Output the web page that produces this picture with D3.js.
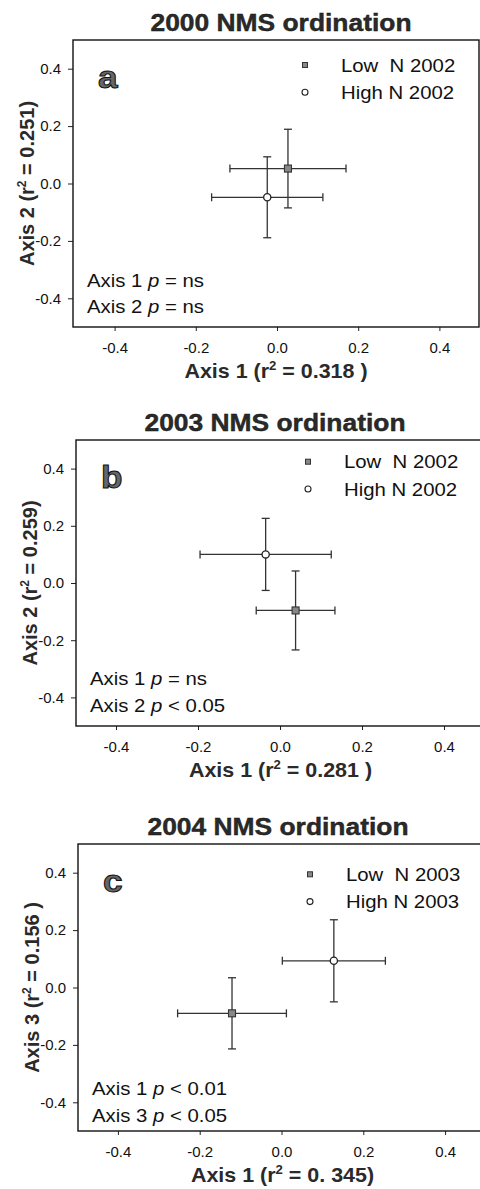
<!DOCTYPE html>
<html>
<head>
<meta charset="utf-8">
<script src="https://cdn.jsdelivr.net/npm/d3@7"></script>
<style>
  body { margin: 0; background: #fff; }
  svg { display: block; }
  text { font-family: "Liberation Sans", Arial, sans-serif; }
</style>
</head>
<body>
<div id="chart"></div>
<script>
// values
var panelLetters = ["a", "b", "c"];
var titles = ["2000 NMS ordination", "2003 NMS ordination", "2004 NMS ordination"];
var yAxisNames = ["Axis 2", "Axis 2", "Axis 3"];
var yR2 = ["0.251)", "0.259)", "0.156 )"];
var xR2 = ["0.318 )", "0.281 )", "0. 345)"];
var lowLabels = ["Low  N 2002", "Low  N 2002", "Low  N 2003"];
var highLabels = ["High N 2002", "High N 2002", "High N 2003"];

var lowX = [0.027, 0.038, -0.121];
var lowY = [0.052, -0.096, -0.090];
var lowXErr = [0.143, 0.096, 0.133];
var lowYErr = [0.137, 0.138, 0.124];

var highX = [-0.024, -0.035, 0.128];
var highY = [-0.048, 0.100, 0.093];
var highXErr = [0.137, 0.160, 0.126];
var highYErr = [0.141, 0.126, 0.143];

var pAxis1 = ["Axis 1", "Axis 1", "Axis 1"];
var pAxis1Val = ["= ns", "= ns", "< 0.01"];
var pAxis2 = ["Axis 2", "Axis 2", "Axis 3"];
var pAxis2Val = ["= ns", "< 0.05", "< 0.05"];

var tickVals = [-0.4, -0.2, 0.0, 0.2, 0.4];

// where each panel sits on the page
var layout = [
  {left: 73, right: 479, xr: [74, 480], top: 40, bottom: 327, titleX: 281, legY: 65, pY: 286.7},
  {left: 76, right: 485, xr: [75, 485], top: 440, bottom: 726, titleX: 275, legY: 461.7, pY: 685},
  {left: 78, right: 487, xr: [77, 486], top: 844, bottom: 1131, titleX: 278, legY: 874.3, pY: 1095}
];

var SX = 1.1; // the scan is a bit wider than tall
var fmt = d3.formatLocale({decimal: ".", thousands: ",", grouping: [3], currency: ["", ""], minus: "-"}).format(".1f");

var svg = d3.select("#chart").append("svg").attr("width", 480).attr("height", 1189);

function label(g, x, y, anchor) {
  return g.append("text")
    .attr("transform", "translate(" + x + "," + y + ") scale(" + SX + ",1)")
    .attr("text-anchor", anchor || "start");
}

panelLetters.forEach(function (letter, i) {
  var L = layout[i];
  var g = svg.append("g");

  var x = d3.scaleLinear().domain([-0.5, 0.5]).range(L.xr);
  var y = d3.scaleLinear().domain([-0.5, 0.5]).range([L.bottom, L.top]);

  // title
  label(g, L.titleX, L.top - 9, "middle")
    .attr("font-size", 24).attr("font-weight", "bold")
    .attr("fill", "#2a2a2a").attr("stroke", "#111").attr("stroke-width", 0.4)
    .text(titles[i]);

  // axes
  var xa = g.append("g").attr("transform", "translate(0," + L.bottom + ")")
    .call(d3.axisBottom(x).tickValues(tickVals).tickFormat(fmt).tickSize(4).tickPadding(11).tickSizeOuter(0));
  var ya = g.append("g").attr("transform", "translate(" + L.left + ",0)")
    .call(d3.axisLeft(y).tickValues(tickVals).tickFormat(fmt).tickSize(5).tickPadding(7).tickSizeOuter(0));
  [xa, ya].forEach(function (a) {
    a.select(".domain").remove();
    a.selectAll("line").attr("stroke", "#222");
    a.selectAll("text").attr("font-size", 15).attr("fill", "#111")
      .attr("font-family", "'Liberation Sans', Arial, sans-serif");
  });

  // box
  g.append("rect")
    .attr("x", L.left).attr("y", L.top)
    .attr("width", L.right - L.left).attr("height", L.bottom - L.top)
    .attr("fill", "none").attr("stroke", "#111").attr("stroke-width", 1.4);

  // axis titles
  var xl = label(g, (L.left + L.right) / 2, L.bottom + 51, "middle")
    .attr("font-size", 19.5).attr("font-weight", "bold").attr("fill", "#2a2a2a");
  xl.append("tspan").text("Axis 1 (r");
  xl.append("tspan").attr("font-size", 12).attr("dy", -8).text("2");
  xl.append("tspan").attr("dy", 8).text(" = " + xR2[i]);

  var yl = g.append("text")
    .attr("transform", "translate(" + (L.left - 39) + "," + ((L.top + L.bottom) / 2) + ") rotate(-90)")
    .attr("text-anchor", "middle")
    .attr("font-size", 20).attr("font-weight", "bold").attr("fill", "#2a2a2a");
  yl.append("tspan").text(yAxisNames[i] + " (r");
  yl.append("tspan").attr("font-size", 12).attr("dy", -8).text("2");
  yl.append("tspan").attr("dy", 8).text(" = " + yR2[i]);

  // panel letter
  label(g, L.left + 25, L.top + 48)
    .attr("font-size", 32).attr("font-weight", "bold")
    .attr("fill", "#666").attr("stroke", "#111").attr("stroke-width", 1)
    .text(letter);

  // legend
  var lx = L.left + 232;
  g.append("rect").attr("x", lx - 2.5).attr("y", L.legY - 2.5).attr("width", 5).attr("height", 5)
    .attr("fill", "#888").attr("stroke", "#333").attr("stroke-width", 1);
  g.append("circle").attr("cx", lx).attr("cy", L.legY + 27.3).attr("r", 3)
    .attr("fill", "#fff").attr("stroke", "#222").attr("stroke-width", 1.1);
  label(g, L.left + 268, L.legY + 6.7).attr("font-size", 18.5).attr("fill", "#111")
    .style("white-space", "pre").text(lowLabels[i]);
  label(g, L.left + 268, L.legY + 34).attr("font-size", 18.5).attr("fill", "#111")
    .text(highLabels[i]);

  // p-value notes
  [[pAxis1[i], pAxis1Val[i]], [pAxis2[i], pAxis2Val[i]]].forEach(function (row, k) {
    var t = label(g, L.left + 14, L.pY + k * 26.7).attr("font-size", 18.5).attr("fill", "#111");
    t.append("tspan").text(row[0] + " ");
    t.append("tspan").attr("font-style", "italic").text("p");
    t.append("tspan").text(" " + row[1]);
  });

  // points with error bars
  var pts = [
    {kind: "low", x: lowX[i], y: lowY[i], ex: lowXErr[i], ey: lowYErr[i]},
    {kind: "high", x: highX[i], y: highY[i], ex: highXErr[i], ey: highYErr[i]}
  ];
  var cap = 4;
  var bars = g.append("g").attr("stroke", "#333").attr("stroke-width", 1.3).attr("fill", "none");
  pts.forEach(function (d) {
    bars.append("line").attr("x1", x(d.x - d.ex)).attr("x2", x(d.x + d.ex)).attr("y1", y(d.y)).attr("y2", y(d.y));
    bars.append("line").attr("x1", x(d.x)).attr("x2", x(d.x)).attr("y1", y(d.y - d.ey)).attr("y2", y(d.y + d.ey));
    [d.x - d.ex, d.x + d.ex].forEach(function (v) {
      bars.append("line").attr("x1", x(v)).attr("x2", x(v)).attr("y1", y(d.y) - cap).attr("y2", y(d.y) + cap);
    });
    [d.y - d.ey, d.y + d.ey].forEach(function (v) {
      bars.append("line").attr("x1", x(d.x) - cap).attr("x2", x(d.x) + cap).attr("y1", y(v)).attr("y2", y(v));
    });
  });
  pts.forEach(function (d) {
    if (d.kind == "low") {
      g.append("rect").attr("x", x(d.x) - 3.5).attr("y", y(d.y) - 3.5).attr("width", 7).attr("height", 7)
        .attr("fill", "#888").attr("stroke", "#333").attr("stroke-width", 1.1);
    } else {
      g.append("circle").attr("cx", x(d.x)).attr("cy", y(d.y)).attr("r", 3.6)
        .attr("fill", "#fff").attr("stroke", "#222").attr("stroke-width", 1.3);
    }
  });
});
</script>
</body>
</html>
